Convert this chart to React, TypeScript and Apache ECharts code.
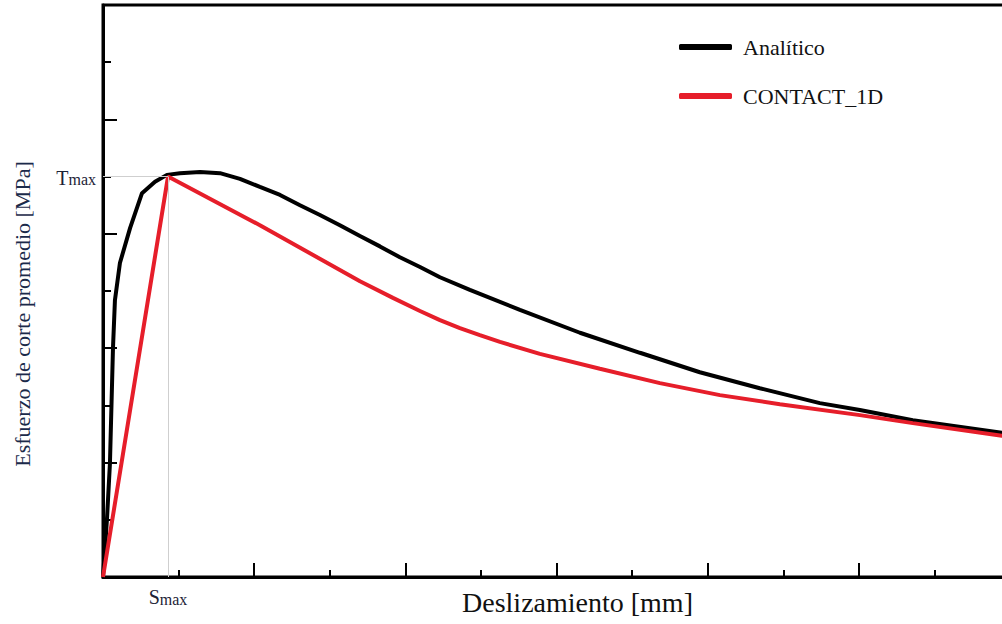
import React, { useEffect, useRef } from "react";
import * as echarts from "echarts";

const analyticX = [0, 0.026, 0.046, 0.066, 0.079, 0.112, 0.179, 0.258, 0.344, 0.423, 0.509, 0.642, 0.774, 0.906, 1.038, 1.171, 1.303, 1.435, 1.567, 1.7, 1.832, 1.964, 2.097, 2.229, 2.427, 2.758, 3.155, 3.552, 3.948, 4.345, 4.742, 5.007, 5.357, 5.946, 6.0];
const analyticY = [0, 1.0, 1.99, 4.0, 4.84, 5.49, 6.1, 6.71, 6.91, 7.03, 7.06, 7.08, 7.06, 6.96, 6.82, 6.68, 6.5, 6.33, 6.15, 5.96, 5.78, 5.59, 5.42, 5.24, 5.02, 4.67, 4.27, 3.92, 3.58, 3.3, 3.04, 2.92, 2.74, 2.52, 2.5];

const contactX = [0, 0.43, 1.038, 1.369, 1.7, 1.918, 2.097, 2.229, 2.361, 2.493, 2.626, 2.89, 3.287, 3.684, 4.081, 4.478, 5.007, 5.357, 5.946, 6.0];
const contactY = [0, 7.0, 6.15, 5.66, 5.17, 4.88, 4.65, 4.49, 4.35, 4.23, 4.11, 3.9, 3.64, 3.39, 3.18, 3.02, 2.83, 2.69, 2.47, 2.46];

const seriesNames = ["Analítico", "CONTACT_1D"];
const sMax = 0.43;
const tMax = 7.0;

const FONT = "Liberation Serif";

export default function App() {
  const ref = useRef<HTMLDivElement>(null);
  useEffect(() => {
    document.body.style.margin = "0";
    const chart = echarts.init(ref.current!, null, { renderer: "svg" });
    const rich = {
      big: { fontSize: 20, fontFamily: FONT, color: "#1c2236", verticalAlign: "bottom", lineHeight: 22 },
      small: { fontSize: 16, fontFamily: FONT, color: "#1c2236", verticalAlign: "bottom", lineHeight: 22 },
    };
    chart.setOption({
      animation: false,
      textStyle: { fontFamily: FONT },
      grid: {
        left: 103,
        top: 5,
        width: 907,
        height: 572,
        outerBoundsMode: "none",
        containLabel: false,
        show: true,
        borderColor: "#000",
        borderWidth: 3,
        backgroundColor: "transparent",
      },
      legend: {
        orient: "vertical",
        left: 679,
        top: 35,
        padding: 0,
        itemWidth: 53,
        itemHeight: 6,
        itemGap: 25,
        icon: "roundRect",
        data: seriesNames,
        formatter: "{n|{name}}",
        textStyle: {
          fontFamily: FONT,
          fontSize: 22,
          color: "#111",
          lineHeight: 24,
          rich: { n: { fontFamily: FONT, fontSize: 22, color: "#111", lineHeight: 24, padding: [0, 0, 0, 6] } },
        },
      },
      xAxis: {
        type: "value",
        min: 0,
        max: 6,
        interval: 1,
        name: "Deslizamiento [mm]",
        nameLocation: "middle",
        nameGap: 11,
        nameTextStyle: { fontFamily: FONT, fontSize: 28, color: "#111", padding: [0, 0, 0, 42] },
        axisLine: { lineStyle: { color: "#000", width: 3 } },
        axisTick: { inside: true, length: 14, lineStyle: { color: "#000", width: 2 } },
        minorTick: { show: true, splitNumber: 2, length: 7, lineStyle: { color: "#000", width: 2 } },
        axisLabel: { show: false },
        splitLine: { show: false },
      },
      yAxis: {
        type: "value",
        min: 0,
        max: 10,
        interval: 2,
        name: "Esfuerzo de corte promedio [MPa]",
        nameLocation: "middle",
        nameGap: 70,
        nameTextStyle: { fontFamily: FONT, fontSize: 22, color: "#1b2a4a", padding: [0, 46, 0, 0] },
        axisLine: { lineStyle: { color: "#000", width: 3 } },
        axisTick: { inside: true, length: 14, lineStyle: { color: "#000", width: 2 } },
        minorTick: { show: true, splitNumber: 2, length: 8, lineStyle: { color: "#000", width: 2 } },
        axisLabel: { show: false },
        splitLine: { show: false },
      },
      series: [
        {
          name: seriesNames[0],
          type: "line",
          data: analyticX.map((x, i) => [x, analyticY[i]]),
          showSymbol: false,
          symbol: "none",
          color: "#000",
          lineStyle: { color: "#000", width: 4 },
          markLine: {
            silent: true,
            symbol: ["none", "none"],
            lineStyle: { color: "#cfcfcf", width: 1, type: "solid" },
            data: [
              [
                {
                  coord: [0, tMax],
                  label: { show: true, position: "start", distance: 7, formatter: "{big|T}{small|max}", rich },
                },
                { coord: [sMax, tMax] },
              ],
              [
                {
                  coord: [sMax, 0],
                  label: { show: true, position: "start", distance: 8, formatter: "{big|S}{small|max}", rich },
                },
                { coord: [sMax, tMax] },
              ],
            ],
          },
          z: 2,
        },
        {
          name: seriesNames[1],
          type: "line",
          data: contactX.map((x, i) => [x, contactY[i]]),
          showSymbol: false,
          symbol: "none",
          color: "#e61e2a",
          lineStyle: { color: "#e61e2a", width: 4 },
          z: 3,
        },
      ],
    });
    return () => chart.dispose();
  }, []);
  return <div ref={ref} style={{ width: 1002, height: 624 }} />;
}
